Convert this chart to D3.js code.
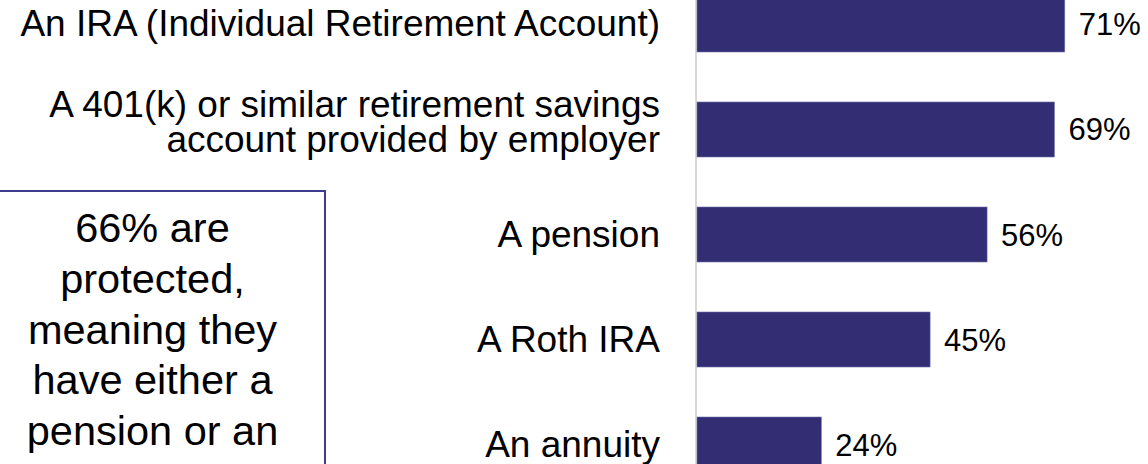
<!DOCTYPE html>
<html>
<head>
<meta charset="utf-8">
<script src="https://cdn.jsdelivr.net/npm/d3@7"></script>
<style>
  body { margin: 0; background: #fff; }
  text { font-family: "Liberation Sans", Arial, sans-serif; fill: #000; }
</style>
</head>
<body>
<div id="viz"></div>
<script>
"use strict";

var categories = [
  ["An IRA (Individual Retirement Account)"],
  ["A 401(k) or similar retirement savings", "account provided by employer"],
  ["A pension"],
  ["A Roth IRA"],
  ["An annuity"]
];
var values = [71, 69, 56, 45, 24];
var noteLines = ["66% are", "protected,", "meaning they", "have either a", "pension or an"];

var w = 1148;
var h = 464;

var svg = d3.select("#viz")
  .append("svg")
  .attr("width", w)
  .attr("height", h)

var x = d3.scaleLinear()
  .domain([0, 100])
  .range([697, 1215]);

var y = d3.scaleBand()
  .domain(d3.range(categories.length))
  .range([-28, 497])
  .paddingInner(0.4762)
  .paddingOuter(0.238);

// axis line
svg.append("line")
  .attr("x1", 696)
  .attr("x2", 696)
  .attr("y1", 0)
  .attr("y2", h)
  .attr("stroke", "#d9d9d9")
  .attr("stroke-width", 2)

svg.append("g")
  .selectAll("rect.bar")
  .data(values).enter()
  .append("rect")
  .classed("bar", true)
  .attr("x", x(0))
  .attr("y", function(d, i) { return y(i); })
  .attr("width", function(d) { return x(d) - x(0); })
  .attr("height", y.bandwidth())
  .attr("fill", "#332D73")
  .attr("stroke", "#7470ad")
  .attr("stroke-width", 0.6)

svg.append("g")
  .selectAll("text.value")
  .data(values).enter()
  .append("text")
  .classed("value", true)
  .attr("x", function(d) { return x(d) + 14; })
  .attr("y", function(d, i) { return y(i) + y.bandwidth() / 2 + 11; })
  .style("font-size", "31px")
  .text(function(d) { return d + "%"; })

var labels = svg.append("g")
  .selectAll("text.cat")
  .data(categories).enter()
  .append("text")
  .classed("cat", true)
  .attr("text-anchor", "end")
  .style("font-size", "37px")
  .attr("transform", function(d, i) {
    var cy = y(i) + y.bandwidth() / 2 + 12;
    var shift = d.length > 1 ? -7 - (d.length - 1) * 35 / 2 : 0;
    return "translate(660," + (cy + shift) + ")";
  })

labels.selectAll("tspan")
  .data(function(d) { return d; }).enter()
  .append("tspan")
  .attr("x", 0)
  .attr("y", function(d, i) { return i * 35; })
  .text(function(d) { return d; })

// note box
svg.append("rect")
  .attr("x", -20)
  .attr("y", 191)
  .attr("width", 345)
  .attr("height", 300)
  .attr("fill", "none")
  .attr("stroke", "#3F3C8C")
  .attr("stroke-width", 2)

svg.append("g")
  .selectAll("text.note")
  .data(noteLines).enter()
  .append("text")
  .classed("note", true)
  .attr("x", 152.5)
  .attr("y", function(d, i) { return 242 + i * 50.8; })
  .attr("text-anchor", "middle")
  .style("font-size", "41.5px")
  .text(function(d) { return d; })
</script>
</body>
</html>
